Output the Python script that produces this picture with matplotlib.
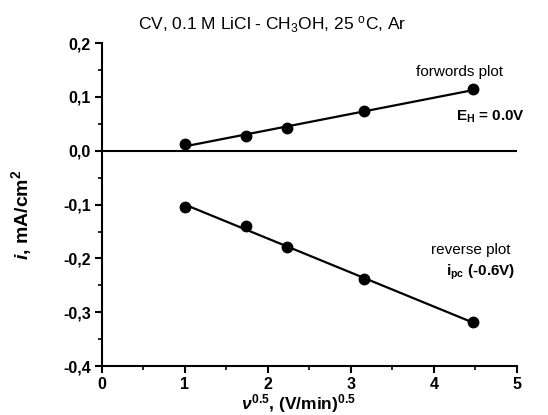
import numpy as np
import matplotlib.pyplot as plt

plt.rcParams['font.family'] = ['Liberation Sans', 'DejaVu Sans']
plt.rcParams['mathtext.fontset'] = 'custom'
plt.rcParams['mathtext.rm'] = 'Liberation Sans'
plt.rcParams['mathtext.bf'] = 'Liberation Sans:bold'
plt.rcParams['mathtext.it'] = 'Liberation Sans:italic:bold'

# scan rate^0.5, (V/min)^0.5
x_rate = [1.0, 1.732, 2.236, 3.162, 4.472]
i_forward = [0.012, 0.028, 0.042, 0.074, 0.114]
i_reverse = [-0.104, -0.140, -0.178, -0.239, -0.319]

fig = plt.figure(figsize=(5.48, 4.15), dpi=100)
ax = fig.add_axes([0.186, 0.118, 0.757, 0.778])

x = np.array(x_rate)
for y in (i_forward, i_reverse):
    p = np.polyfit(x, y, 1)
    ax.plot(x, np.polyval(p, x), color='black', lw=1.6)
    ax.plot(x, y, 'o', color='black', ms=7.5)

ax.axhline(0, color='black', lw=1.5)

ax.set_xlim(0, 5)
ax.set_ylim(-0.4, 0.2)
ax.set_xticks([0, 1, 2, 3, 4, 5])
ax.set_xticks(np.arange(0.5, 5, 1), minor=True)
ax.set_yticks([-0.4, -0.3, -0.2, -0.1, 0.0, 0.1, 0.2])
ax.set_yticks(np.arange(-0.35, 0.2, 0.1), minor=True)
ax.set_yticklabels(['-0,4', '-0,3', '-0,2', '-0,1', '0,0', '0,1', '0,2'])

for s in ('top', 'right'):
    ax.spines[s].set_visible(False)
for s in ('left', 'bottom'):
    ax.spines[s].set_linewidth(1.5)
ax.tick_params(which='major', direction='out', length=5, width=1.5, labelsize=11.5, pad=3)
ax.tick_params(which='minor', direction='out', length=3, width=1.2)
for lab in ax.get_xticklabels() + ax.get_yticklabels():
    lab.set_fontweight('bold')

fig.text(0.496, 0.94, r'CV, 0.1 M LiCl - CH$_3$OH, 25 $^{\rm o}$C, Ar',
         ha='center', va='center', fontsize=12.5)
ax.set_ylabel(r'$\mathit{i}$, mA/cm$^{\mathbf{2}}$', fontsize=14, fontweight='bold')
ax.yaxis.set_label_coords(-0.163, 0.47)
ax.set_xlabel(r'$\mathit{\nu}^{\mathbf{0.5}}$, (V/min)$^{\mathbf{0.5}}$', fontsize=12.5,
              fontweight='bold')
ax.xaxis.set_label_coords(0.475, -0.08)

ax.text(4.83, 0.147, 'forwords plot', ha='right', va='center', fontsize=11)
ax.text(5.1, 0.064, r'E$_{\mathbf{H}}$ = 0.0V', ha='right', va='center', fontsize=11,
        fontweight='bold')
ax.text(4.92, -0.185, 'reverse plot', ha='right', va='center', fontsize=11)
ax.text(4.98, -0.226, r'i$_{\mathbf{pc}}$ (-0.6V)', ha='right', va='center', fontsize=11,
        fontweight='bold')

fig.savefig('out.png', dpi=100)
